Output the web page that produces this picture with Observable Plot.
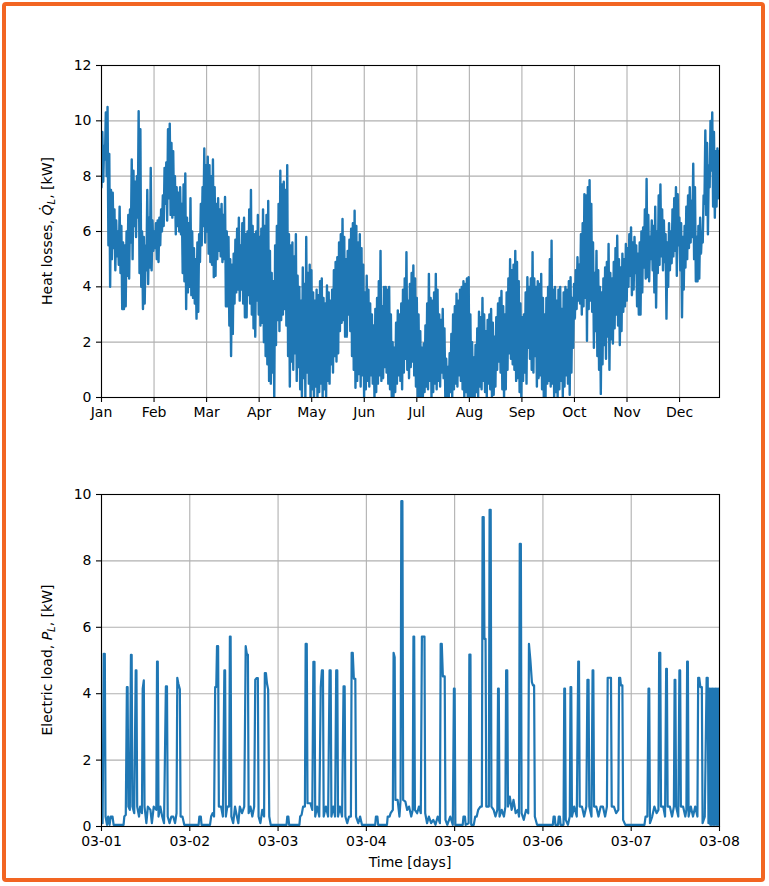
<!DOCTYPE html>
<html><head><meta charset="utf-8">
<script src="https://cdn.jsdelivr.net/npm/d3@7"></script>
<script src="https://cdn.jsdelivr.net/npm/@observablehq/plot@0.6"></script>
<style>
html,body{margin:0;padding:0;background:#fff;}
body{width:769px;height:886px;position:relative;overflow:hidden;font-family:"DejaVu Sans",sans-serif;color:#000;}
#frame{position:absolute;left:2px;top:2px;width:763px;height:880px;box-sizing:border-box;border:4px solid #f26522;border-radius:4px;}
.chart{position:absolute;left:0;}
.lab{position:absolute;font-size:14px;white-space:nowrap;line-height:1;}
.ylab{transform:translate(-50%,-50%) rotate(-90deg);}
.xlab{transform:translate(-50%,-50%);}
sub{font-size:10px;vertical-align:-3px;}
</style></head>
<body>
<div id="frame"></div>
<div id="top" class="chart" style="top:0px"></div>
<div id="bottom" class="chart" style="top:440px"></div>
<div class="lab ylab" style="left:48px;top:231px">Heat losses, <i>Q̇</i><sub><i>L</i></sub>, [kW]</div>
<div class="lab ylab" style="left:48px;top:660px">Electric load, <i>P</i><sub><i>L</i></sub>, [kW]</div>
<div class="lab xlab" style="left:410px;top:862px">Time [days]</div>
<script>
// ---------- Top chart: heat losses (daily low / high, in kW) ----------
const monthLabels = ["Jan","Feb","Mar","Apr","May","Jun","Jul","Aug","Sep","Oct","Nov","Dec"];
const heatTicks = [0,2,4,6,8,10,12];
const heatJan = [7.6,9.6, 7.8,9.1, 8.6,10.3, 8.0,10.5, 5.5,8.8, 4.0,7.5, 5.0,7.4, 5.4,6.8, 4.6,6.4, 5.1,6.0, 4.8,6.9, 4.5,6.2, 3.2,5.6, 3.2,5.5, 3.3,6.0, 4.4,6.6, 4.3,6.8, 5.6,8.6, 5.0,8.2, 6.2,7.8, 5.8,8.0, 6.5,10.35, 4.5,9.7, 4.0,6.0, 3.2,5.8, 3.4,5.5, 4.6,7.5, 4.1,6.5, 4.7,8.3, 4.6,6.4];
const heatFeb = [5.3,6.0, 5.4,6.3, 5.0,6.4, 4.9,6.5, 5.5,6.8, 6.0,7.3, 6.2,8.3, 7.0,8.5, 6.4,9.7, 7.2,9.9, 6.6,9.2, 6.5,8.9, 6.6,8.0, 5.9,7.6, 6.2,7.4, 6.0,7.6, 5.9,7.0, 4.5,7.7, 4.2,8.1, 3.2,6.5, 3.8,6.3, 4.0,7.2, 3.7,6.0, 3.6,5.4, 3.4,5.0, 2.85,5.6, 3.1,5.9, 4.9,7.0, 5.5,7.6, 6.2,9.0, 5.6,8.4];
const heatMar = [6.0,8.7, 5.2,8.4, 4.9,8.0, 4.8,8.6, 4.35,7.6, 4.4,7.0, 5.0,7.2, 5.3,6.8, 5.1,7.0, 4.9,6.6, 5.0,7.25, 3.3,6.0, 3.3,5.8, 2.6,5.0, 1.5,4.8, 2.3,5.2, 3.4,5.7, 3.8,6.1, 3.9,6.5, 3.5,5.5, 3.9,6.3, 3.4,6.5, 2.9,5.9, 2.9,6.0, 3.7,6.8, 3.4,7.5, 3.0,6.2, 2.5,5.9, 2.2,6.0, 3.5,6.6];
const heatApr = [3.0,5.8, 2.6,6.1, 2.7,6.8, 2.0,6.2, 1.5,6.6, 1.2,7.1, 0.6,5.3, 0.5,4.5, 0.9,4.2, 0.0,5.5, 1.9,6.2, 2.8,7.0, 2.4,8.2, 2.8,7.7, 3.0,7.8, 3.2,7.5, 2.6,8.4, 1.5,5.9, 0.4,5.5, 1.3,5.6, 1.0,5.1, 1.6,5.9, 0.6,4.4, 1.1,4.0, 0.3,3.5, 0.0,4.7, 0.7,4.1, 0.0,5.8, 0.9,4.5, 0.5,4.8, 0.0,4.6];
const heatMay = [0.3,3.8, 0.0,3.5, 0.4,3.9, 0.0,3.7, 0.2,4.2, 0.5,4.3, 0.0,3.6, 0.3,3.4, 0.0,4.05, 0.6,3.8, 0.5,3.5, 1.2,3.9, 0.9,4.6, 1.5,4.9, 1.3,5.07, 1.6,5.6, 2.4,5.9, 2.7,6.45, 2.8,5.8, 2.2,5.0, 2.2,5.3, 3.0,5.7, 2.4,6.1, 1.5,6.3, 1.0,6.75, 0.35,6.2, 0.6,5.6, 0.85,5.9, 0.4,5.4, 0.8,4.8];
const heatJun = [0.0,3.8, 0.3,4.4, 0.6,3.9, 0.4,3.4, 0.8,3.0, 0.5,2.6, 0.0,3.2, 0.2,3.6, 0.5,4.2, 0.8,5.3, 0.6,3.3, 0.7,4.0, 1.1,4.0, 0.9,3.9, 0.5,4.0, 0.3,3.0, 0.0,2.0, 0.0,1.8, 0.2,2.7, 0.5,3.15, 0.8,3.0, 0.6,3.4, 0.3,3.9, 0.9,4.3, 1.4,5.25, 1.0,3.5, 0.7,4.1, 1.1,4.5, 1.3,4.77, 0.8,4.3, 0.4,3.6];
const heatJul = [0.0,3.0, 0.0,2.4, 0.0,1.8, 0.0,1.95, 0.2,2.6, 0.4,3.4, 0.3,4.47, 0.6,3.6, 0.0,3.5, 0.2,3.8, 0.5,4.47, 0.3,3.9, 0.6,3.0, 0.4,2.8, 0.9,3.2, 0.7,2.5, 0.0,1.4, 0.0,1.1, 0.0,1.6, 0.2,2.3, 0.0,3.0, 0.3,3.3, 0.5,3.75, 0.4,3.5, 0.8,3.9, 0.6,4.0, 0.3,4.2, 0.0,4.1, 0.2,4.3, 0.0,4.35];
const heatAug = [0.0,3.0, 0.0,2.0, 0.0,1.45, 0.0,1.9, 0.2,2.5, 0.0,3.1, 0.4,2.9, 0.3,3.6, 0.6,3.0, 0.2,2.4, 0.0,2.8, 0.5,3.0, 0.3,3.2, 0.0,2.7, 0.1,2.2, 0.4,2.9, 1.0,3.4, 1.3,3.6, 0.9,3.85, 0.3,3.3, 0.0,3.0, 0.3,3.8, 1.0,4.3, 1.6,5.0, 1.4,4.6, 1.2,4.8, 1.0,5.3, 0.6,4.9, 0.7,4.2, 0.2,3.4];
const heatSep = [0.0,2.9, 0.6,3.0, 0.9,3.8, 0.5,4.35, 1.8,4.0, 1.4,4.3, 1.0,5.25, 0.9,4.3, 1.5,4.0, 0.4,4.2, 0.7,4.1, 0.8,4.47, 0.3,3.6, 0.0,3.0, 0.0,3.6, 0.5,4.0, 0.6,5.0, 0.4,5.67, 0.5,3.9, 0.0,4.0, 0.2,3.5, 0.0,3.9, 0.3,4.0, 0.6,3.2, 0.0,3.8, 0.4,4.0, 0.8,3.9, 0.5,4.2, 0.1,4.35, 0.9,3.6, 1.8,4.1];
const heatOct = [2.85,4.6, 3.2,5.07, 3.5,4.8, 3.4,5.9, 3.0,6.3, 3.3,7.35, 3.6,7.3, 2.05,7.6, 3.2,7.85, 3.5,7.0, 3.1,5.6, 1.8,4.5, 2.4,5.3, 1.5,4.6, 1.0,4.0, 0.13,3.8, 1.2,4.3, 1.9,4.7, 1.4,4.9, 2.2,5.55, 1.0,4.5, 2.1,4.3, 1.95,4.9, 2.5,5.4, 3.0,5.85, 2.6,5.0, 1.9,4.7, 2.4,5.2, 3.1,5.0, 3.3,5.55];
const heatNov = [3.5,5.4, 4.0,5.9, 4.4,6.15, 3.7,5.6, 3.9,5.8, 4.5,5.5, 3.3,5.2, 3.0,5.6, 3.0,6.0, 3.8,6.15, 4.7,6.8, 4.3,7.9, 4.35,6.6, 4.2,5.8, 5.0,6.4, 4.6,6.2, 3.8,6.9, 3.25,6.0, 4.5,7.3, 4.8,7.7, 5.1,6.8, 4.6,6.4, 4.9,5.9, 2.85,5.6, 4.0,6.3, 4.6,6.0, 4.85,6.8, 5.1,7.2, 5.3,7.6, 4.4,7.35, 5.5,6.5];
const heatDec = [4.6,6.3, 2.9,5.8, 3.9,6.2, 4.7,6.9, 5.0,7.3, 5.4,7.6, 5.6,7.1, 5.8,8.45, 5.0,7.6, 4.2,5.8, 4.2,6.2, 4.3,6.5, 5.2,6.0, 5.6,7.3, 7.0,9.65, 6.6,9.2, 5.9,8.4, 7.6,10.0, 8.2,10.3, 6.9,9.6, 6.5,8.9, 6.9,9.0, 7.2,8.9];

// ---------- Bottom chart: electric load, [hour from 03-01 00:00, kW] ----------
const dayLabels = ["03-01","03-02","03-03","03-04","03-05","03-06","03-07","03-08"];
const loadTicks = [0,2,4,6,8,10];
const loadDay1 = [[0,0.3],[0.3,0.1],[0.6,5.2],[0.9,5.2],[1.1,0.3],[1.5,0.05],[1.8,0.3],[2.2,0.05],[2.5,0.3],[3.0,0.3],[3.3,0.05],[6.0,0.05],[6.2,0.3],[6.6,0.35],[6.9,4.2],[7.1,4.2],[7.3,0.6],[7.7,0.5],[8.0,5.17],[8.2,5.17],[8.4,0.6],[8.9,0.4],[9.3,4.7],[9.5,4.7],[9.7,0.6],[10.2,0.3],[10.5,0.6],[11.0,0.4],[11.2,4.15],[11.5,4.4],[11.7,0.6],[12.2,0.1],[12.6,0.6],[13.3,0.5],[13.7,0.1],[14.2,0.6],[14.9,0.5],[15.1,4.97],[15.3,4.97],[15.5,0.3],[16.0,0.6],[16.5,0.3],[17.0,0.1],[17.5,4.22],[17.8,4.22],[18.0,0.3],[18.5,0.1],[19.0,0.3],[19.5,0.3],[20.0,0.1],[20.4,0.4],[20.6,4.48],[20.9,4.3],[21.3,4.13],[21.5,0.3],[22.0,0.3],[22.5,0.05]];
const loadDay2 = [[24,0.05],[26.4,0.05],[26.6,0.3],[27.0,0.3],[27.2,0.05],[29.5,0.05],[29.8,0.3],[30.2,0.4],[30.6,0.3],[30.9,4.2],[31.2,4.2],[31.4,5.43],[31.7,5.43],[31.9,0.6],[32.5,0.6],[33.0,0.3],[33.4,4.7],[33.6,4.7],[33.8,0.3],[34.2,0.6],[34.7,0.6],[34.9,5.72],[35.1,5.72],[35.3,0.3],[35.8,0.1],[36.3,0.6],[36.8,0.3],[37.2,0.1],[37.6,0.6],[38.2,0.4],[38.8,0.6],[39.2,5.43],[39.5,5.2],[39.8,5.17],[40.0,0.4],[40.5,0.6],[41.0,0.3],[41.5,0.6],[41.8,4.42],[42.2,4.47],[42.5,4.47],[42.7,0.3],[43.2,0.1],[43.7,0.5],[44.2,0.3],[44.4,4.62],[44.7,4.62],[45.0,4.3],[45.3,4.13],[45.6,0.3],[46.0,0.05]];
const loadDay3 = [[48,0.05],[50.3,0.05],[50.5,0.3],[50.8,0.3],[51.0,0.05],[53.8,0.05],[54.0,0.3],[54.4,0.35],[54.8,0.6],[55.3,0.6],[55.5,5.5],[55.8,5.5],[56.0,0.7],[56.8,0.7],[57.3,0.5],[57.6,4.96],[57.9,4.96],[58.1,0.3],[58.6,0.6],[59.2,0.3],[59.6,4.2],[59.9,4.7],[60.2,4.7],[60.4,0.3],[61.0,0.6],[61.6,0.3],[62.0,4.7],[62.3,4.7],[62.5,0.3],[63.0,0.6],[63.5,0.3],[63.8,4.7],[64.1,4.7],[64.3,0.3],[64.8,0.6],[65.4,0.3],[65.8,4.22],[66.1,4.22],[66.3,0.3],[66.8,0.1],[67.3,0.3],[67.8,0.3],[68.0,5.23],[68.3,5.23],[68.6,4.45],[69.0,4.45],[69.2,0.3],[69.8,0.1],[70.3,0.3],[70.8,0.05]];
const loadDay4 = [[72,0.05],[74.4,0.05],[74.6,0.3],[75.0,0.3],[75.2,0.05],[77.6,0.05],[77.8,0.3],[78.3,0.3],[78.6,0.4],[79.2,0.5],[79.4,5.23],[79.7,5.1],[79.9,0.8],[80.5,0.8],[81.0,0.3],[81.3,0.8],[81.5,9.8],[81.8,9.8],[82.0,0.8],[82.6,0.75],[83.1,0.5],[83.6,0.6],[84.2,0.3],[84.6,0.5],[84.8,5.72],[85.0,5.72],[85.2,0.5],[85.8,0.4],[86.3,0.6],[86.8,0.4],[87.1,5.72],[87.8,5.72],[88.0,0.4],[88.5,0.1],[89.0,0.3],[89.6,0.1],[90.2,0.2],[90.8,0.05],[91.4,0.3],[92.0,0.1],[92.2,5.5],[92.5,5.5],[92.8,4.52],[93.3,4.52],[93.5,0.2],[94.0,0.05],[94.8,0.3],[95.5,0.05],[95.8,4.15],[96.0,4.15],[96.2,0.05]];
const loadDay5 = [[96.4,0.05],[98.2,0.05],[98.4,0.3],[98.8,0.3],[99.0,0.05],[99.8,0.1],[100.0,5.18],[100.3,5.18],[100.5,0.05],[101.2,0.05],[101.6,0.3],[102.0,0.3],[102.4,0.5],[103.0,0.6],[103.4,0.6],[103.6,9.32],[103.9,9.32],[104.1,5.65],[104.4,5.65],[104.6,0.6],[105.0,0.6],[105.3,0.6],[105.5,9.54],[105.8,9.54],[106.0,0.6],[106.6,0.5],[107.1,0.3],[107.6,0.5],[107.8,4.15],[108.0,4.15],[108.2,0.3],[108.8,0.5],[109.4,0.3],[109.8,0.6],[110.0,4.7],[110.3,4.7],[110.5,0.6],[111.0,0.9],[111.5,0.5],[112.0,0.8],[112.6,0.4],[113.2,0.5],[113.5,0.3],[113.7,8.51],[114.0,8.51],[114.2,0.4],[114.8,0.2],[115.4,0.5],[116.0,0.4],[116.2,5.5],[116.6,5.0],[117.0,4.35],[117.3,4.25],[117.6,4.25],[117.8,0.3],[118.4,0.05]];
const loadDay6 = [[120,0.05],[122.7,0.05],[122.9,0.3],[123.2,0.3],[123.4,0.05],[124.1,0.05],[124.3,0.3],[124.6,0.3],[124.8,0.05],[125.6,0.05],[125.8,4.15],[126.0,4.15],[126.2,0.2],[126.8,0.05],[127.3,0.3],[127.5,4.2],[127.7,4.2],[127.9,0.3],[128.5,0.6],[129.2,0.3],[129.6,4.97],[129.8,4.97],[130.0,0.6],[130.6,0.6],[131.2,0.3],[131.8,0.6],[132.1,4.42],[132.4,4.42],[132.6,0.6],[133.2,0.3],[133.5,4.7],[133.7,4.7],[133.9,0.6],[134.5,0.6],[135.1,0.3],[135.7,0.6],[136.3,0.6],[136.9,0.3],[137.4,0.6],[137.6,4.48],[138.5,4.48],[138.7,0.6],[139.3,0.6],[139.9,0.4],[140.5,0.5],[140.7,4.48],[141.0,4.48],[141.2,4.25],[141.6,4.25],[141.8,0.2],[142.4,0.05]];
const loadDay7 = [[144,0.05],[147.6,0.05],[147.9,0.3],[148.4,0.3],[148.7,4.15],[148.9,4.15],[149.1,0.1],[149.7,0.3],[150.3,0.6],[150.9,0.4],[151.4,0.5],[151.6,5.23],[151.9,5.23],[152.1,0.6],[152.7,0.6],[153.2,0.3],[153.5,4.75],[153.7,4.75],[153.9,0.6],[154.5,0.6],[155.1,0.3],[155.6,0.6],[155.8,4.42],[156.0,4.42],[156.2,0.6],[156.8,0.3],[157.1,4.7],[157.3,4.7],[157.5,0.6],[158.1,0.6],[158.7,0.3],[159.0,0.5],[159.2,4.97],[159.4,4.97],[159.6,0.3],[160.2,0.6],[160.8,0.3],[161.4,0.6],[162.0,0.3],[162.2,4.48],[162.5,4.48],[162.8,4.2],[163.2,4.2],[163.4,0.1],[164.0,0.3],[164.5,4.48],[164.8,4.48],[165.0,0.1],[165.3,4.15],[165.5,0.05],[165.7,4.15],[165.9,0.05],[166.1,4.15],[166.3,0.05],[166.5,4.15],[166.7,0.05],[166.9,4.15],[167.1,0.05],[167.3,4.15],[167.5,0.05],[167.7,4.15],[167.9,0.05],[168,4.15]];

// ---------- Build tables ----------
const heatChunks = [heatJan,heatFeb,heatMar,heatApr,heatMay,heatJun,heatJul,heatAug,heatSep,heatOct,heatNov,heatDec];
const heat = [];
let day = 0;
for (const chunk of heatChunks) {
  for (let i = 0; i < chunk.length; i += 2) {
    heat.push({t: day, q: chunk[i]});
    heat.push({t: day + 0.5, q: chunk[i + 1]});
    day++;
  }
}
const monthTicks = monthLabels.map((_, i) => i * 365 / 12);
const load = [loadDay1,loadDay2,loadDay3,loadDay4,loadDay5,loadDay6,loadDay7].flat().map(([h, p]) => ({h, p}));
const dayTicks = dayLabels.map((_, i) => i * 24);

const blue = "#1f77b4";
const gridStyle = {stroke: "#b0b0b0", strokeOpacity: 1, strokeWidth: 1.1};
const font = {fontFamily: '"DejaVu Sans", sans-serif', fontSize: "14px", color: "#000", background: "transparent", overflow: "visible"};

const topChart = Plot.plot({
  width: 769, height: 430,
  marginLeft: 101, marginRight: 50, marginTop: 65, marginBottom: 33,
  style: font,
  x: {type: "linear", domain: [0, 357.7]},
  y: {domain: [0, 12]},
  marks: [
    Plot.gridX(monthTicks, gridStyle),
    Plot.gridY(heatTicks, gridStyle),
    Plot.line(heat, {x: "t", y: "q", stroke: blue, strokeWidth: 2.4, clip: true}),
    Plot.frame({stroke: "#000", strokeWidth: 1.1}),
    Plot.axisX(monthTicks, {tickSize: 5, tickPadding: 5, fontSize: 14, label: null, strokeWidth: 1.1,
      tickFormat: d => monthLabels[monthTicks.indexOf(d)]}),
    Plot.axisY(heatTicks, {tickSize: 5, tickPadding: 5, fontSize: 14, label: null, strokeWidth: 1.1,
      tickFormat: d => String(d)})
  ]
});
document.getElementById("top").append(topChart);

const bottomChart = Plot.plot({
  width: 769, height: 446,
  marginLeft: 101, marginRight: 50, marginTop: 54, marginBottom: 60,
  style: font,
  x: {type: "linear", domain: [0, 168]},
  y: {domain: [0, 10]},
  marks: [
    Plot.gridX(dayTicks, gridStyle),
    Plot.gridY(loadTicks, gridStyle),
    Plot.line(load, {x: "h", y: "p", stroke: blue, strokeWidth: 2.2, clip: true}),
    Plot.frame({stroke: "#000", strokeWidth: 1.1}),
    Plot.axisX(dayTicks, {tickSize: 5, tickPadding: 5, fontSize: 14, label: null, strokeWidth: 1.1,
      tickFormat: d => dayLabels[dayTicks.indexOf(d)]}),
    Plot.axisY(loadTicks, {tickSize: 5, tickPadding: 5, fontSize: 14, label: null, strokeWidth: 1.1,
      tickFormat: d => String(d)})
  ]
});
document.getElementById("bottom").append(bottomChart);
</script>
</body></html>
